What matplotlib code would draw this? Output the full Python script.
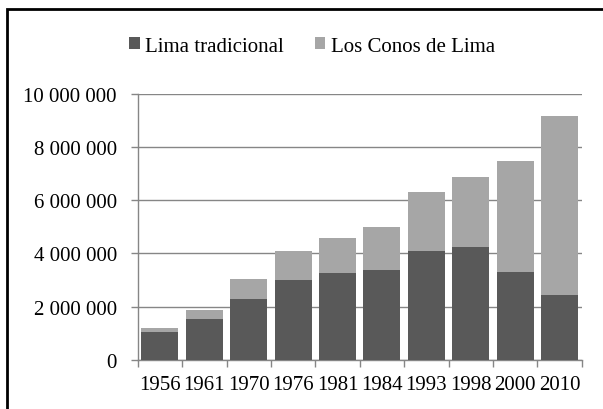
import matplotlib
matplotlib.use("Agg")
import matplotlib.pyplot as plt
from matplotlib.patches import Rectangle
from matplotlib.ticker import FuncFormatter, FixedLocator
import numpy as np

years = ["1956", "1961", "1970", "1976", "1981", "1984", "1993", "1998", "2000", "2010"]
lima_tradicional = [1050000, 1540000, 2280000, 3010000, 3270000, 3380000, 4110000, 4260000, 3300000, 2430000]
conos_de_lima = [140000, 330000, 750000, 1090000, 1330000, 1630000, 2190000, 2630000, 4190000, 6720000]
series_names = ["Lima tradicional", "Los Conos de Lima"]
colors = ["#595959", "#a6a6a6"]

plt.rcParams['font.family'] = ['Liberation Serif', 'DejaVu Serif']

fig = plt.figure(figsize=(6.03, 4.10), dpi=100)
ax = fig.add_axes([137.7/603, 1-361/410, (581.7-137.7)/603, (361-94.7)/410])

x = np.arange(len(years))
w = 0.83
b1 = ax.bar(x, lima_tradicional, w, color=colors[0], label=series_names[0], zorder=3)
b2 = ax.bar(x, conos_de_lima, w, bottom=lima_tradicional, color=colors[1], label=series_names[1], zorder=3)

ax.set_xlim(-0.5, len(years)-0.5)
ax.set_ylim(0, 10000000)
ax.set_yticks(np.arange(0, 10000001, 2000000))
ax.yaxis.set_major_formatter(FuncFormatter(lambda v, p: f"{int(v):,}".replace(",", " ")))
ax.yaxis.grid(True, color="#868686", linewidth=1.0, zorder=0)

ax.set_xticks(x)
ax.set_xticklabels(years)
ax.xaxis.set_minor_locator(FixedLocator(np.arange(-0.5, len(years), 1.0)))
ax.tick_params(axis='x', which='major', length=0, pad=11, labelsize=15)
ax.tick_params(axis='x', which='minor', length=5, color="#868686", width=1)
ax.tick_params(axis='y', which='major', length=5, color="#868686", width=1, pad=10, labelsize=15)

for s in ["top", "right"]:
    ax.spines[s].set_visible(False)
for s in ["left", "bottom"]:
    ax.spines[s].set_color("#868686")
    ax.spines[s].set_linewidth(1.0)

fig.legend(handles=[b1, b2], labels=series_names, loc='center',
           bbox_to_anchor=(312/603, 1-47/410), ncol=2, frameon=False,
           fontsize=15, handlelength=0.5, handleheight=0.5,
           handletextpad=0.25, columnspacing=1.5)

fig.patches.append(Rectangle((7/603, -0.5), 2.0, 1.5-10/410, transform=fig.transFigure,
                             fill=False, edgecolor="black", linewidth=2.0))

fig.savefig("out.png", dpi=100)
